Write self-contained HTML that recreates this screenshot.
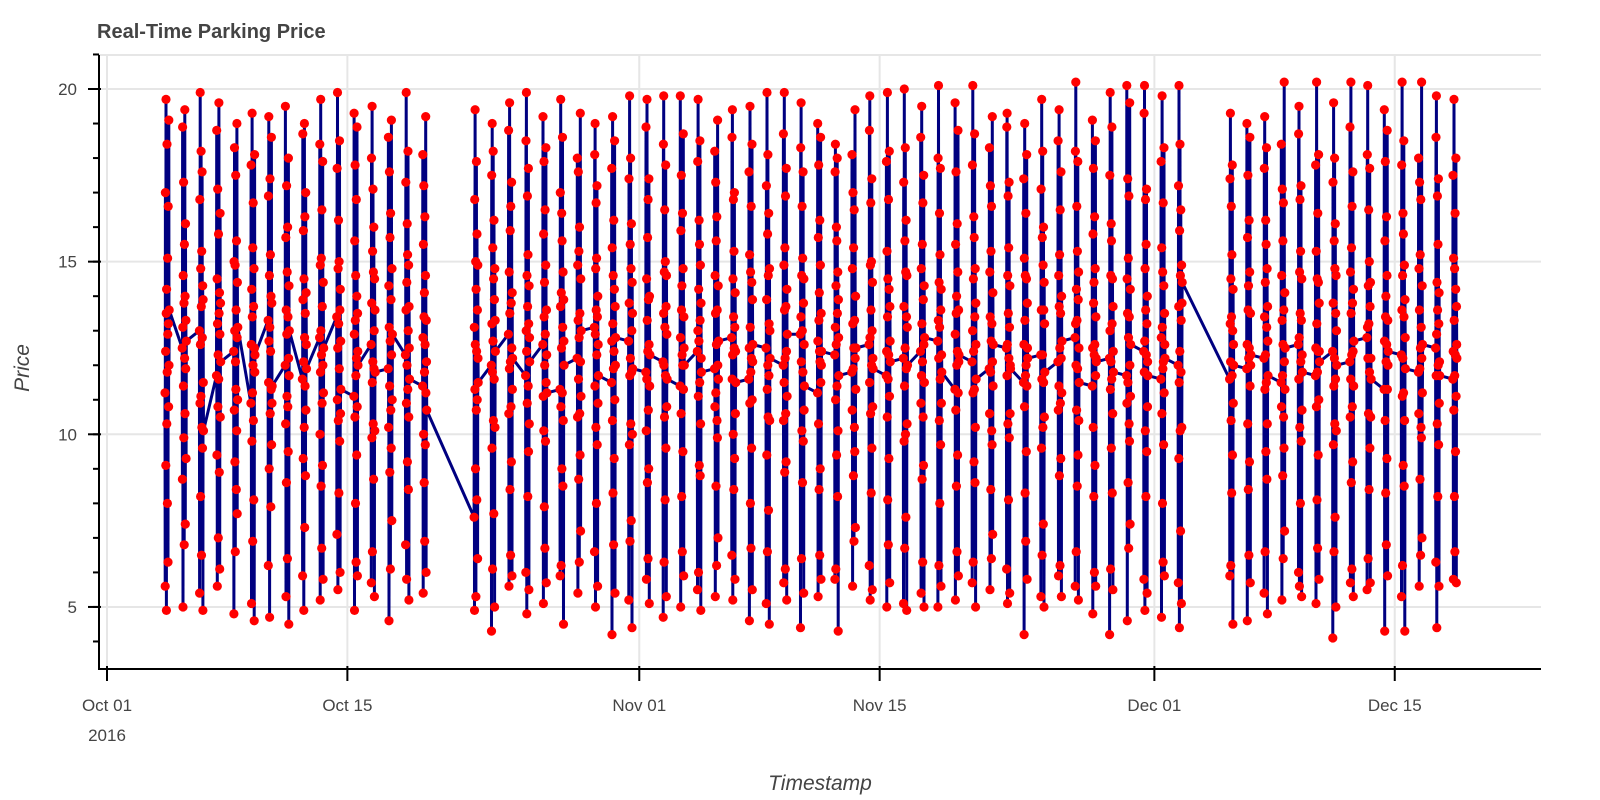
<!DOCTYPE html>
<html><head><meta charset="utf-8">
<style>
html,body{margin:0;padding:0;background:#fff;}
svg{display:block;font-family:"Liberation Sans",Arial,sans-serif;}
</style></head>
<body>
<svg id="chart" width="1600" height="800" viewBox="0 0 1600 800" xmlns="http://www.w3.org/2000/svg">
<text x="97" y="38" font-size="20" font-weight="bold" fill="#444">Real-Time Parking Price</text>
<g id="grid"></g>
<g id="series"></g>
<g id="axes"></g>
<text x="0" y="0" font-size="21" font-style="italic" fill="#444" text-anchor="middle" transform="translate(29,368) rotate(-90)">Price</text>
<text x="820" y="790" font-size="21" font-style="italic" fill="#444" text-anchor="middle">Timestamp</text>
</svg>
<script>
const priceDates = ["2016-10-04","2016-10-05","2016-10-06","2016-10-07","2016-10-08","2016-10-09","2016-10-10","2016-10-11","2016-10-12","2016-10-13","2016-10-14","2016-10-15","2016-10-16","2016-10-17","2016-10-18","2016-10-19",
"2016-10-22","2016-10-23","2016-10-24","2016-10-25","2016-10-26","2016-10-27","2016-10-28","2016-10-29","2016-10-30","2016-10-31",
"2016-11-01","2016-11-02","2016-11-03","2016-11-04","2016-11-05","2016-11-06","2016-11-07","2016-11-08","2016-11-09","2016-11-10","2016-11-11","2016-11-12","2016-11-13","2016-11-14","2016-11-15","2016-11-16","2016-11-17","2016-11-18","2016-11-19","2016-11-20","2016-11-21","2016-11-22","2016-11-23","2016-11-24","2016-11-25","2016-11-26","2016-11-27","2016-11-28","2016-11-29","2016-11-30",
"2016-12-01","2016-12-02",
"2016-12-05","2016-12-06","2016-12-07","2016-12-08","2016-12-09","2016-12-10","2016-12-11","2016-12-12","2016-12-13","2016-12-14","2016-12-15","2016-12-16","2016-12-17","2016-12-18"];
const priceValues = [
[11.2,5.6,17.0,12.4,9.1,19.7,13.5,4.9,14.2,10.3,18.4,11.8,8.0,15.1,12.9,6.3,16.6,13.2,10.8,19.1,12.0,13.6],
[12.5,8.7,18.9,13.1,5.0,14.6,11.4,17.3,9.9,13.8,6.8,15.5,12.2,19.4,10.6,14.0,7.4,16.1,11.9,13.3,9.3,12.7],
[13.0,5.4,16.8,10.9,19.9,12.6,8.2,14.8,11.1,18.2,13.7,6.5,15.3,10.2,17.6,12.8,9.6,14.3,4.9,13.9,11.5,10.1],
[11.7,18.8,9.4,14.5,5.6,13.2,17.1,10.8,12.3,7.0,15.8,11.6,19.6,13.5,8.9,14.1,6.1,12.9,16.4,10.5,13.8,12.1],
[12.4,4.8,15.0,10.7,18.3,13.0,9.2,14.9,6.6,12.1,17.5,11.3,13.6,8.4,15.6,10.1,19.0,12.8,7.7,14.4,11.0,13.1],
[10.9,17.8,12.6,5.1,14.2,9.8,19.3,13.4,11.2,6.9,15.4,12.0,16.7,10.4,13.7,8.1,14.8,4.6,12.5,18.1,11.8,12.3],
[13.3,6.2,16.9,11.5,19.2,12.7,9.0,14.6,4.7,13.1,17.4,10.6,15.2,12.4,7.9,14.0,11.3,18.6,9.7,13.8,10.9,11.4],
[12.0,19.5,10.3,15.7,5.3,13.6,8.6,17.2,12.9,11.1,14.7,6.4,16.0,10.8,13.4,9.5,18.0,12.2,4.5,14.3,11.7,13.0],
[11.6,5.9,18.7,13.9,9.3,15.9,12.1,4.9,14.5,10.2,19.0,12.8,7.3,16.3,11.4,13.5,8.8,17.0,10.7,14.1,12.6,11.9],
[12.8,18.4,10.0,5.2,14.9,11.8,19.7,13.0,8.5,15.1,12.3,6.7,16.5,10.9,13.7,9.1,17.9,12.0,5.8,14.4,11.2,12.5],
[13.4,7.1,17.7,11.0,19.9,12.5,5.5,14.8,10.4,16.2,13.2,8.3,15.0,11.9,18.5,9.8,13.6,6.0,14.2,10.6,12.7,11.3],
[11.1,19.3,12.9,4.9,15.6,10.5,17.8,13.3,8.0,14.6,11.7,6.3,16.8,12.2,9.4,14.0,18.9,10.8,5.9,13.5,12.4,12.0],
[12.6,5.7,18.0,13.8,9.9,19.5,11.5,6.6,15.3,12.1,17.1,10.3,14.7,8.7,16.0,11.9,13.0,5.3,14.5,10.1,13.6,11.8],
[11.9,18.6,10.2,14.3,4.6,13.1,17.6,11.4,8.9,15.7,12.7,6.1,16.4,10.7,13.9,9.6,19.1,12.3,7.5,14.8,11.0,12.9],
[12.3,6.8,17.3,13.6,19.9,10.9,5.8,14.4,12.0,16.1,9.2,15.2,11.3,18.2,13.0,8.4,14.9,10.5,5.2,13.7,12.5,11.6],
[11.4,18.1,12.8,5.4,15.5,10.0,17.2,13.4,8.6,14.1,11.8,6.9,16.3,12.6,9.7,14.6,19.2,11.2,6.0,13.3,12.1,10.7],
[7.6,13.1,4.9,16.8,11.3,19.4,12.6,9.0,15.0,5.3,14.2,10.7,17.9,12.4,8.1,15.8,11.0,13.6,6.4,14.9,12.2,11.5],
[12.0,4.3,17.5,13.2,9.6,19.0,11.8,6.1,15.4,12.7,18.2,10.4,14.5,7.7,16.2,11.6,13.9,5.0,14.8,10.2,13.3,12.4],
[12.9,18.8,10.6,5.6,14.7,11.9,19.6,13.5,8.4,15.9,12.1,6.5,16.6,10.8,13.8,9.2,17.3,12.5,5.9,14.1,11.3,12.2],
[11.7,6.0,18.5,13.0,19.9,12.4,4.8,14.6,10.9,16.9,13.7,8.2,15.2,11.4,17.7,9.5,13.2,5.5,14.3,10.3,12.8,12.1],
[12.6,19.2,11.1,5.1,15.8,10.1,17.9,13.4,7.9,14.4,12.0,6.7,16.5,12.9,9.8,14.9,18.3,11.5,5.7,13.6,12.3,11.2],
[11.3,5.9,17.0,13.7,19.7,10.8,6.2,14.1,12.5,16.4,9.0,15.6,11.2,18.6,13.1,8.5,14.7,10.4,4.5,13.9,12.7,12.0],
[12.2,18.0,10.5,14.9,5.4,13.3,17.6,11.6,8.7,15.3,12.8,6.3,16.0,10.6,13.5,9.4,19.3,12.1,7.2,14.5,11.1,13.0],
[13.1,6.6,18.1,11.4,19.0,12.9,5.0,14.8,10.2,16.7,13.6,8.0,15.1,12.3,17.2,9.7,13.4,5.6,14.0,10.9,12.6,11.7],
[11.5,17.7,12.7,4.2,15.4,10.4,19.2,13.2,8.3,14.6,11.9,6.8,16.2,12.4,9.3,14.2,18.5,11.0,5.4,13.7,12.0,12.8],
[12.7,5.2,17.4,13.8,9.7,19.8,11.7,6.9,15.5,12.2,18.0,10.3,14.8,7.5,16.1,11.8,13.0,4.4,14.4,10.0,13.5,11.9],
[11.8,18.9,10.1,5.8,14.5,11.6,19.7,13.3,8.6,15.7,12.4,6.4,16.8,10.7,13.9,9.0,17.4,12.6,5.1,14.0,11.4,12.3],
[12.1,4.7,18.4,13.5,19.8,12.0,6.3,14.7,10.5,16.5,13.1,8.1,15.0,11.7,17.8,9.6,13.7,5.3,14.6,10.8,12.9,11.6],
[11.4,19.8,12.8,5.0,15.9,10.6,17.5,13.6,8.2,14.3,12.3,6.6,16.4,12.0,9.5,14.8,18.7,11.3,5.9,13.4,12.5,12.0],
[12.4,5.5,17.9,13.0,19.7,11.1,6.0,14.2,12.7,16.2,9.1,15.5,11.5,18.5,13.3,8.8,14.9,10.3,4.9,13.8,12.2,11.8],
[11.9,18.2,10.8,14.6,5.3,13.5,17.3,11.2,8.5,15.6,12.6,6.2,16.3,10.4,13.6,9.9,19.1,12.0,7.0,14.3,11.6,12.7],
[12.8,6.5,18.6,11.6,19.4,12.3,5.2,14.5,10.0,16.8,13.4,8.4,15.3,12.5,17.0,9.3,13.1,5.8,14.1,10.6,12.4,11.5],
[11.6,17.6,12.5,4.6,15.2,10.9,19.5,13.1,8.0,14.7,11.8,6.7,16.6,12.2,9.6,14.4,18.4,11.0,5.5,13.9,12.1,12.6],
[12.5,5.1,17.2,13.9,9.4,19.9,11.3,6.6,15.8,12.0,18.1,10.5,14.6,7.8,16.4,11.7,13.2,4.5,14.8,10.4,13.0,12.2],
[12.0,18.7,10.4,5.7,14.9,11.5,19.9,13.6,8.9,15.4,12.2,6.1,16.9,10.6,13.7,9.2,17.7,12.4,5.2,14.2,11.1,12.9],
[12.9,4.4,18.3,13.4,19.6,12.1,6.4,14.6,10.1,16.6,13.0,8.6,15.1,11.8,17.6,9.8,13.8,5.4,14.5,10.7,12.6,11.4],
[11.2,19.0,12.7,5.3,15.7,10.3,17.8,13.3,8.4,14.1,12.4,6.5,16.2,12.1,9.0,14.9,18.6,11.5,5.8,13.5,12.0,12.4],
[12.3,5.8,17.6,13.1,18.4,11.0,6.1,14.3,12.6,16.0,9.4,15.6,11.4,18.0,13.5,8.2,14.7,10.1,4.3,13.9,12.8,11.7],
[11.8,18.1,10.7,14.8,5.6,13.2,17.0,11.9,8.8,15.4,12.5,6.9,16.5,10.2,13.3,9.5,19.4,12.2,7.3,14.0,11.3,12.5],
[12.6,6.2,18.8,11.5,19.8,12.8,5.2,14.9,10.6,16.7,13.6,8.3,15.0,12.0,17.4,9.6,13.0,5.5,14.4,10.8,12.2,11.9],
[11.7,17.9,12.4,5.0,15.3,10.5,19.9,13.4,8.1,14.5,11.6,6.8,16.8,12.3,9.3,14.2,18.2,11.1,5.7,13.7,12.7,12.1],
[12.2,5.1,17.3,13.7,9.8,20.0,11.4,6.7,15.6,12.5,18.3,10.0,14.7,7.6,16.2,11.9,13.4,4.9,14.6,10.3,13.1,12.0],
[12.4,18.6,10.9,5.4,14.8,11.7,19.5,13.2,8.7,15.5,12.1,6.3,16.7,10.5,13.9,9.1,17.5,12.6,5.0,14.3,11.5,12.8],
[12.7,5.0,18.0,13.3,20.1,12.2,6.2,14.4,10.4,16.4,13.1,8.0,15.2,11.6,17.7,9.7,13.6,5.6,14.2,10.9,12.3,11.8],
[11.3,19.6,12.9,5.2,15.5,10.7,17.6,13.5,8.5,14.0,12.0,6.6,16.1,12.4,9.4,14.7,18.8,11.2,5.9,13.6,12.1,12.3],
[12.1,5.7,17.8,13.0,20.1,11.2,6.3,14.5,12.4,16.3,9.2,15.7,11.3,18.7,13.4,8.6,14.8,10.2,5.0,13.8,12.6,11.6],
[11.9,18.3,10.6,14.7,5.5,13.4,17.2,11.8,8.4,15.3,12.7,6.4,16.6,10.1,13.2,9.7,19.2,12.1,7.1,14.1,11.4,12.6],
[12.5,6.1,18.9,11.7,19.3,12.6,5.1,14.6,10.3,16.9,13.5,8.1,15.4,12.2,17.3,9.9,13.1,5.4,14.3,10.6,12.0,11.9],
[11.5,17.4,12.6,4.2,15.1,10.8,19.0,13.3,8.3,14.6,11.7,6.9,16.4,12.0,9.5,14.5,18.1,11.4,5.8,13.8,12.5,12.2],
[12.3,5.3,17.1,13.6,9.6,19.7,11.6,6.5,15.7,12.3,18.2,10.2,14.9,7.4,16.0,11.5,13.6,5.0,14.4,10.5,13.2,11.8],
[12.1,18.5,10.7,5.9,14.6,11.4,19.4,13.7,8.8,15.2,12.5,6.2,16.5,10.9,13.5,9.3,17.6,12.2,5.3,14.0,11.2,12.7],
[12.8,5.6,18.2,13.2,20.2,12.0,6.6,14.2,10.7,16.6,13.3,8.5,15.3,11.9,17.9,9.4,13.9,5.2,14.7,10.4,12.5,11.5],
[11.4,19.1,12.5,4.8,15.8,10.2,17.7,13.8,8.2,14.4,12.3,6.0,16.3,12.6,9.1,14.8,18.5,11.7,5.6,13.4,12.2,12.1],
[12.2,4.2,17.5,13.0,19.9,11.3,6.1,14.6,12.1,16.1,9.6,15.6,11.6,18.9,13.2,8.3,14.5,10.6,5.5,13.7,12.4,11.8],
[11.7,20.1,10.9,14.5,4.6,13.5,17.4,11.5,8.6,15.1,12.8,6.7,16.9,10.3,13.4,9.8,19.6,12.0,7.4,14.2,11.1,12.6],
[12.4,5.8,19.3,11.8,20.1,12.7,4.9,14.8,10.1,16.8,13.6,8.2,15.5,12.3,17.1,9.5,13.2,5.4,14.0,10.8,12.1,11.7],
[11.6,17.9,12.8,4.7,15.4,10.6,19.8,13.1,8.0,14.7,11.9,6.3,16.7,12.1,9.7,14.3,18.3,11.2,5.9,13.5,12.6,12.2],
[12.0,5.7,17.2,13.7,9.3,20.1,11.5,4.4,15.9,12.4,18.4,10.1,14.6,7.2,16.5,11.8,13.3,5.1,14.9,10.2,13.8,14.4],
[11.6,5.9,17.4,13.2,19.3,12.1,6.2,14.5,10.4,16.6,13.4,8.3,15.2,11.7,17.8,9.4,13.0,4.5,14.2,10.9,12.6,12.0],
[11.9,19.0,12.6,4.6,15.7,10.3,17.5,13.6,8.4,14.3,12.2,6.5,16.2,12.5,9.2,14.7,18.6,11.4,5.7,13.5,12.0,12.3],
[12.2,5.4,17.7,13.4,19.2,11.3,6.6,14.4,12.3,16.2,9.5,15.5,11.5,18.3,13.1,8.7,14.8,10.3,4.8,13.7,12.7,11.7],
[11.5,18.4,10.8,14.6,5.2,13.3,17.1,11.7,8.8,15.6,12.6,6.4,16.7,10.5,13.6,9.6,20.2,12.1,7.2,14.1,11.3,12.5],
[12.6,6.0,18.7,11.6,19.5,12.8,5.6,14.7,10.2,16.8,13.5,8.0,15.3,12.1,17.2,9.8,13.3,5.3,14.5,10.7,12.3,11.8],
[11.7,17.8,12.5,5.1,15.3,10.8,20.2,13.2,8.1,14.5,11.8,6.7,16.4,12.4,9.4,14.4,18.1,11.0,5.8,13.8,12.4,12.1],
[12.4,4.1,17.3,13.8,9.7,19.6,11.4,6.6,15.6,12.2,18.0,10.3,14.8,7.6,16.1,11.6,13.5,5.0,14.6,10.1,13.0,12.0],
[12.1,18.9,10.5,5.7,14.7,11.6,20.2,13.5,8.6,15.4,12.3,6.1,16.6,10.8,13.8,9.2,17.6,12.4,5.3,14.2,11.4,12.7],
[12.8,5.5,18.1,13.1,20.1,12.2,6.4,14.3,10.6,16.5,13.2,8.4,15.0,11.8,17.7,9.6,13.7,5.7,14.4,10.5,12.2,11.6],
[11.3,19.4,12.7,4.3,15.6,10.4,17.9,13.4,8.3,14.0,12.1,6.8,16.3,12.6,9.3,14.6,18.8,11.3,5.9,13.3,12.0,12.4],
[12.3,5.3,17.8,13.6,20.2,11.1,6.2,14.6,12.2,16.4,9.1,15.8,11.2,18.5,13.4,8.5,14.9,10.4,4.3,13.9,12.8,11.9],
[11.8,18.0,10.6,14.8,5.6,13.6,17.3,11.9,8.7,15.2,12.5,6.5,16.8,10.2,13.1,9.9,20.2,12.2,7.0,14.3,11.2,12.6],
[12.5,6.3,18.6,11.7,19.8,12.9,4.4,14.4,10.3,16.9,13.6,8.2,15.5,12.0,17.4,9.7,13.2,5.6,14.1,10.9,12.1,11.7],
[11.6,17.5,12.4,5.8,15.1,10.7,19.7,13.3,8.2,14.8,11.7,6.6,16.4,12.3,9.5,14.2,18.0,11.1,5.7,13.7,12.6,12.2]
];
const yTickValues = [5,10,15,20];
const yMinorTickValues = [4,5,6,7,8,9,10,11,12,13,14,15,16,17,18,19,20,21];
const xTickDates = ["2016-10-01","2016-10-15","2016-11-01","2016-11-15","2016-12-01","2016-12-15"];
const xTickLabels = ["Oct 01","Oct 15","Nov 01","Nov 15","Dec 01","Dec 15"];

(function(){
var NS = "http://www.w3.org/2000/svg";
var L = 99, R = 1541, T = 55, B = 669;
var base = Date.UTC(2016,9,1);
function dayOf(s){var p=s.split("-");return (Date.UTC(+p[0],+p[1]-1,+p[2])-base)/86400000;}
function xs(d){return 107 + d*17.17;}
function ys(v){return 89 + (20-v)*34.53;}
function mk(tag, attrs, parent){var e=document.createElementNS(NS,tag);for(var k in attrs)e.setAttribute(k,attrs[k]);parent.appendChild(e);return e;}

var gridG=document.getElementById("grid"), axesG=document.getElementById("axes"), seriesG=document.getElementById("series");
var outline=mk("line",{x1:L,x2:R,y1:T,y2:T,stroke:"#e6e6e6","stroke-width":2},gridG);


yTickValues.forEach(function(v){
  var g=mk("line",{x1:L,x2:R,y1:ys(v),y2:ys(v),stroke:"#e6e6e6","stroke-width":2},gridG);
  
  
});
xTickDates.forEach(function(s){
  var x=xs(dayOf(s));
  var g=mk("line",{x1:x,x2:x,y1:T,y2:B,stroke:"#e6e6e6","stroke-width":2},gridG);
  
  
});
var pts=[];
priceDates.forEach(function(s,i){
  var d=dayOf(s), row=priceValues[i], n=row.length;
  row.forEach(function(v,j){pts.push([xs(d+0.38+0.24*j/(n-1)),ys(v)]);});
});
var pl=mk("polyline",{points:pts.map(function(p){return p[0].toFixed(1)+","+p[1].toFixed(1);}).join(" "),fill:"none",stroke:"#000080","stroke-width":3,"stroke-linejoin":"round"},seriesG);


var dotsG=mk("g",{fill:"#ff0000"},seriesG);


pts.forEach(function(p){
  var c=mk("circle",{cx:p[0].toFixed(1),cy:p[1].toFixed(1),r:4.6},dotsG);
  
  
});
var ya=mk("line",{x1:L,x2:L,y1:T,y2:B+1,stroke:"#000","stroke-width":2},axesG);


var xa=mk("line",{x1:L-1,x2:R,y1:B,y2:B,stroke:"#000","stroke-width":2},axesG);


yMinorTickValues.forEach(function(v){
  var t=mk("line",{x1:L-6,x2:L,y1:ys(v),y2:ys(v),stroke:"#000","stroke-width":2},axesG);
  
  
});
yTickValues.forEach(function(v){
  var t=mk("line",{x1:L-11,x2:L+2,y1:ys(v),y2:ys(v),stroke:"#000","stroke-width":2},axesG);
  
  
  var tx=mk("text",{x:L-22,y:ys(v)+6,"font-size":17,fill:"#444","text-anchor":"end"},axesG);
  tx.textContent=String(v);
  
  
});
xTickDates.forEach(function(s,i){
  var x=xs(dayOf(s));
  var t=mk("line",{x1:x,x2:x,y1:B-3,y2:B+12,stroke:"#000","stroke-width":2},axesG);
  
  
  var tx=mk("text",{x:x,y:711,"font-size":17,fill:"#444","text-anchor":"middle"},axesG);
  tx.textContent=xTickLabels[i];
  
  
});
var yr=mk("text",{x:xs(0),y:741,"font-size":17,fill:"#444","text-anchor":"middle"},axesG);
yr.textContent="2016";


})();
</script>
</body></html>
